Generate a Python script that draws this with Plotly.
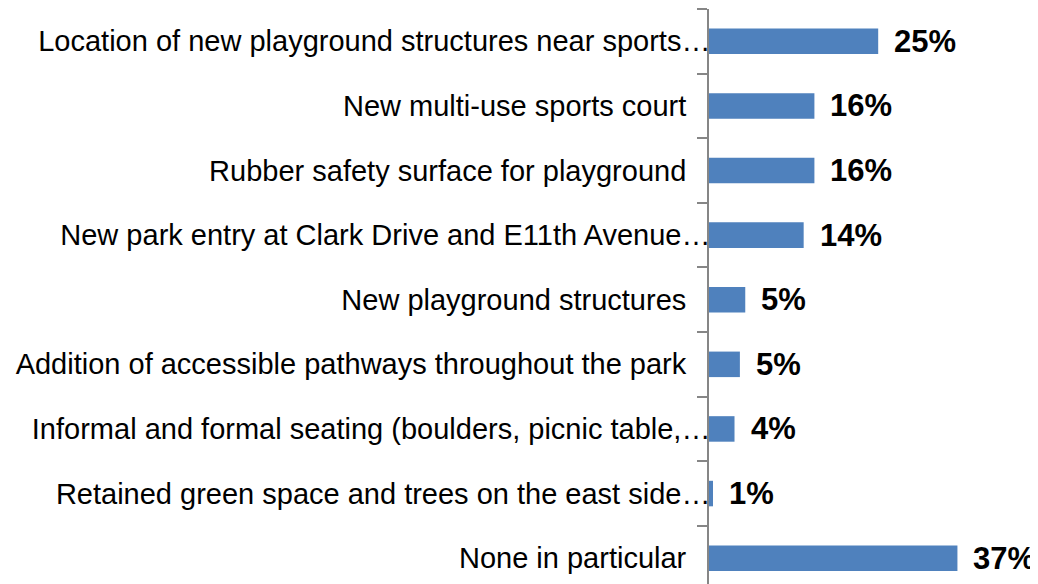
import plotly.graph_objects as go

# Survey answers, top to bottom as shown
categories = [
    "Location of new playground structures near sports…",
    "New multi-use sports court",
    "Rubber safety surface for playground",
    "New park entry at Clark Drive and E11th Avenue…",
    "New playground structures",
    "Addition of accessible pathways throughout the park",
    "Informal and formal seating (boulders, picnic table,…",
    "Retained green space and trees on the east side…",
    "None in particular",
]
# Share of respondents [%]
values = [25.2, 15.7, 15.7, 14.1, 5.4, 4.6, 3.8, 0.6, 37.0]
value_labels = [f"{round(v)}%" for v in values]

BAR_COLOR = "#4F81BD"
FONT = "Liberation Sans, Arial, sans-serif"

# Excel leaves a gap between full labels and the axis, truncated ones run up to it
tick_text = [c if c.endswith("…") else c + "\u00a0" * 3 for c in categories]

fig = go.Figure()
fig.add_trace(go.Bar(
    x=values,
    y=categories,
    orientation="h",
    marker=dict(color=BAR_COLOR, line=dict(width=0)),
    showlegend=False,
    hoverinfo="skip",
))

for cat, val, lbl in zip(categories, values, value_labels):
    fig.add_annotation(
        x=val, y=cat, text=f"<b>{lbl}</b>",
        showarrow=False, xanchor="left", yanchor="middle", xshift=14,
        font=dict(family=FONT, size=31, color="black"),
    )

# the page body adds an 8px offset, margins account for it
fig.update_layout(
    width=1038,
    height=584,
    margin=dict(l=701, r=8, t=1, b=8, pad=0),
    paper_bgcolor="white",
    plot_bgcolor="white",
    bargap=0.605,
    font=dict(family=FONT, size=29, color="black"),
)
fig.update_xaxes(
    range=[0, 49.0],
    visible=False,
    showgrid=False,
    zeroline=False,
)
fig.update_yaxes(
    type="category",
    categoryorder="array",
    categoryarray=categories,
    range=[8.4, -0.5],
    tickmode="array",
    tickvals=categories,
    ticktext=tick_text,
    showline=True,
    linecolor="#868686",
    linewidth=1.5,
    ticks="outside",
    tickson="boundaries",
    ticklen=10,
    tickcolor="#868686",
    tickwidth=1.5,
    ticklabelstandoff=-9,
    showgrid=False,
    zeroline=False,
    tickfont=dict(family=FONT, size=29, color="black"),
)

fig.write_html("out.html")
